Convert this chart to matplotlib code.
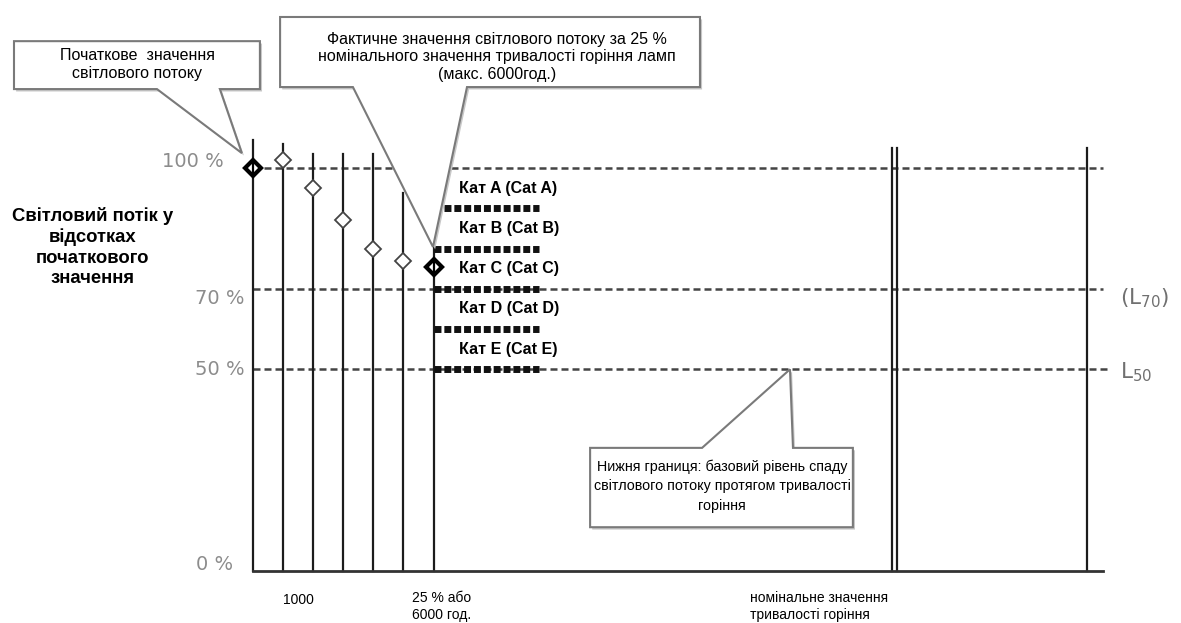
import matplotlib
matplotlib.use("Agg")
import matplotlib.pyplot as plt
from matplotlib.patches import Polygon

# vertical test lines, in thousands of burning hours, and measured flux in %
hours_k = [0, 1, 2, 3, 4, 5, 6]
line_tops = [107, 106, 103.6, 103.6, 103.6, 93.7, 81]
flux = [100, 102, 95, 87, 80, 77, 75.5]

# nominal lifetime lines (schematic position)
nominal_x = [21.23, 21.40, 27.71]
nominal_top = 104.9

# horizontal reference levels
levels = [100, 70, 50]
level_end = [28.24, 28.24, 28.4]
axis_end = 28.24

# lumen maintenance categories
cat_names = ["Кат A (Cat A)", "Кат B (Cat B)", "Кат C (Cat C)",
             "Кат D (Cat D)", "Кат E (Cat E)"]
cat_lower = [90, 80, 70, 60, 50]
cat_start = [6.35, 6.0, 6.0, 6.0, 6.0]
cat_end = 9.5

ytick_vals = [100, 70, 50, 0]
ytick_labels = ["100 %", "70 %", "50 %", "0 %"]

plt.rcParams["font.family"] = ["Liberation Sans", "DejaVu Sans"]

fig = plt.figure(figsize=(11.81, 6.23), dpi=100)
ax = fig.add_axes([0, 0, 1, 1])
ax.set_xlim(-8.405, 30.831)
ax.set_ylim(-12.99, 141.72)
ax.axis("off")

line_c = "#1c1c1c"
for x, top in zip(hours_k, line_tops):
    ax.plot([x, x], [0, top], color=line_c, lw=1.6, zorder=2)
for x in nominal_x:
    ax.plot([x, x], [0, nominal_top], color=line_c, lw=1.6, zorder=2)
ax.plot([0, axis_end], [0, 0], color="#333333", lw=2, zorder=2)

for lv, end in zip(levels, level_end):
    ax.plot([0, end], [lv, lv], color="#444444", lw=1.8,
            dashes=(2.8, 1.6), zorder=1)

# category bars and labels
for name, low, x0 in zip(cat_names, cat_lower, cat_start):
    ax.plot([x0, cat_end], [low, low], color="#111111", lw=5,
            dashes=(1.0, 0.42), solid_capstyle="butt", zorder=3)
    ax.text(6.85, low + 5, name, fontsize=11.5, fontweight="bold",
            ha="left", va="center", zorder=6)

# measured points
ax.plot(hours_k[1:6], flux[1:6], "D", ms=7.8, mfc="white", mec="#444444",
        mew=1.3, zorder=4)
big = [0, 6]
ax.plot([hours_k[i] for i in big], [flux[i] for i in big], "D", ms=8.5,
        mfc="white", mec="black", mew=3, zorder=5)
ax.plot([hours_k[i] for i in big], [flux[i] for i in big], "|", ms=7,
        mec="black", mew=1.6, zorder=6)

# y labels (hand placed like in the original sketch)
tick_dx = [-0.96, -0.27, -0.27, -0.66]
tick_dy = [1.5, -2.5, 0, 1.5]
for v, lab, dx, dy in zip(ytick_vals, ytick_labels, tick_dx, tick_dy):
    ax.text(dx, v + dy, lab, fontsize=14, color="#8c8c8c",
            family="DejaVu Sans", ha="right", va="center")

ax.text(28.8, 67.7, "(L$_{70}$)", fontsize=15.5, color="#707070",
        family="DejaVu Sans", ha="left", va="center")
ax.text(28.8, 49.3, "L$_{50}$", fontsize=15.5, color="#707070",
        family="DejaVu Sans", ha="left", va="center")

ax.text(-5.32, 80.4, "Світловий потік у\nвідсотках\nпочаткового\nзначення",
        fontsize=13.3, fontweight="bold", ha="center", va="center",
        linespacing=1.25)

# bottom labels
ax.text(1.5, -7.3, "1000", fontsize=10, ha="center", va="center")
ax.text(5.28, -8.9, "25 % або\n6000 год.", fontsize=10, ha="left",
        va="center", linespacing=1.25)
ax.text(16.5, -8.9, "номінальне значення\nтривалості горіння", fontsize=10,
        ha="left", va="center", linespacing=1.25)


def callout(verts, text, tx, ty, fs, ls):
    shadow = [(x + 0.07, y - 0.6) for x, y in verts]
    ax.add_patch(Polygon(shadow, closed=True, fc="#c8c8c8", ec="none",
                         zorder=7))
    ax.add_patch(Polygon(verts, closed=True, fc="white", ec="#7a7a7a",
                         lw=1.5, zorder=8))
    ax.text(tx, ty, text, fontsize=fs, ha="center", va="center",
            linespacing=ls, zorder=9)


callout([(-7.94, 131.5), (0.23, 131.5), (0.23, 119.6), (-1.10, 119.6),
         (-0.37, 103.7), (-3.19, 119.6), (-7.94, 119.6)],
        "Початкове  значення\nсвітлового потоку", -3.84, 125.7, 11.5, 1.2)

callout([(0.90, 137.5), (14.85, 137.5), (14.85, 120.1), (7.11, 120.1),
         (5.98, 80.4), (3.32, 120.1), (0.90, 120.1)],
        "Фактичне значення світлового потоку за 25 %\n"
        "номінального значення тривалості горіння ламп\n(макс. 6000год.)",
        8.1, 127.6, 11.5, 1.18)

callout([(11.20, 30.5), (14.92, 30.5), (17.84, 50.0), (17.94, 30.5),
         (19.93, 30.5), (19.93, 10.8), (11.20, 10.8)],
        "Нижня границя: базовий рівень спаду\nсвітлового потоку протягом "
        "тривалості\nгоріння", 15.58, 21.0, 10.3, 1.5)

fig.savefig("out.png", dpi=100)
